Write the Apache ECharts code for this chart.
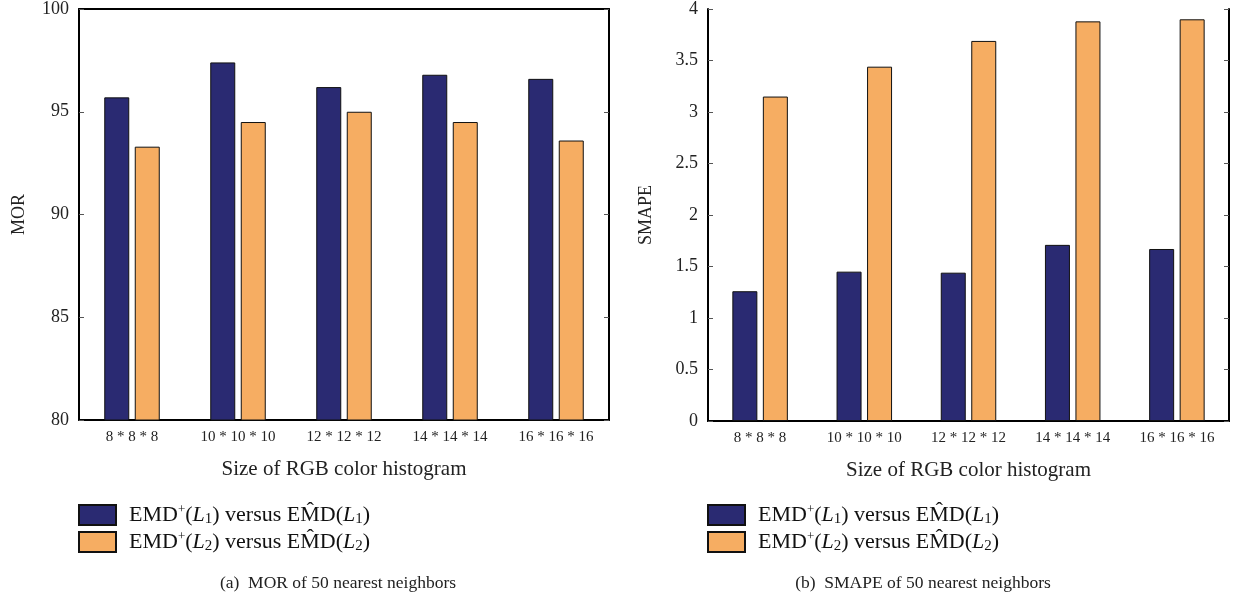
<!DOCTYPE html>
<html>
<head>
<meta charset="utf-8">
<script src="https://cdn.jsdelivr.net/npm/echarts@6/dist/echarts.min.js"></script>
<style>
  html, body { margin: 0; padding: 0; background: #fff; }
  #main { width: 1246px; height: 605px; }
</style>
</head>
<body>
<div id="main"></div>
<script>
  // categories and values
  var categories = ['8 * 8 * 8', '10 * 10 * 10', '12 * 12 * 12', '14 * 14 * 14', '16 * 16 * 16'];
  var morL1 = [95.7, 97.4, 96.2, 96.8, 96.6];
  var morL2 = [93.3, 94.5, 95.0, 94.5, 93.6];
  var smapeL1 = [1.26, 1.45, 1.44, 1.71, 1.67];
  var smapeL2 = [3.15, 3.44, 3.69, 3.88, 3.90];

  var FONT = 'Liberation Serif';
  var colors = ['#2a2a72', '#f6ad62'];

  var myChart = echarts.init(document.getElementById('main'));

  var legendRich = {
    t: { fontFamily: FONT, fontSize: 22, color: '#111', lineHeight: 24 },
    i: { fontFamily: FONT, fontSize: 22, fontStyle: 'italic', color: '#111', lineHeight: 24 },
    sup: { fontFamily: FONT, fontSize: 13, color: '#111', lineHeight: 12, verticalAlign: 'top' },
    sub: { fontFamily: FONT, fontSize: 15, color: '#111', lineHeight: 10, verticalAlign: 'bottom' }
  };
  function legendText(name) {
    var n = name === 'L1' ? '1' : '2';
    return '{t|EMD}{sup|+}{t|(}{i|L}{sub|' + n + '}{t|) versus EM\u0302D(}{i|L}{sub|' + n + '}{t|)}';
  }

  function xAxes(gi) {
    return [
      {
        type: 'category', gridIndex: gi, data: categories, position: 'bottom',
        axisLine: { lineStyle: { color: '#000', width: 2 } },
        axisTick: { inside: true, alignWithLabel: true, length: 4, lineStyle: { color: '#555' } },
        axisLabel: { fontFamily: FONT, fontSize: 15, color: '#222', margin: 10 },
        name: 'Size of RGB color histogram', nameLocation: 'middle', nameGap: 39,
        nameTextStyle: { fontFamily: FONT, fontSize: 21, color: '#222' }
      },
      {
        type: 'category', gridIndex: gi, data: categories, position: 'top',
        axisLine: { lineStyle: { color: '#000', width: 2 } },
        axisTick: { inside: true, alignWithLabel: true, length: 5, lineStyle: { color: '#555' } },
        axisLabel: { show: false }
      }
    ];
  }
  function yAxes(gi, min, max, interval, name, gap) {
    return [
      {
        type: 'value', gridIndex: gi, min: min, max: max, interval: interval, position: 'left',
        splitLine: { show: false },
        axisLine: { show: true, lineStyle: { color: '#000', width: 2 } },
        axisTick: { show: true, inside: true, length: 5, lineStyle: { color: '#555' } },
        axisLabel: { fontFamily: FONT, fontSize: 18, color: '#222', margin: 10 },
        name: name, nameLocation: 'middle', nameGap: gap, nameRotate: 90,
        nameTextStyle: { fontFamily: FONT, fontSize: 18, color: '#222' }
      },
      {
        type: 'value', gridIndex: gi, min: min, max: max, interval: interval, position: 'right',
        splitLine: { show: false },
        axisLine: { show: true, lineStyle: { color: '#000', width: 2 } },
        axisTick: { show: true, inside: true, length: 5, lineStyle: { color: '#555' } },
        axisLabel: { show: false }
      }
    ];
  }
  function bar(name, gi, data, color) {
    return {
      name: name, type: 'bar', xAxisIndex: gi * 2, yAxisIndex: gi * 2,
      barWidth: 25, barGap: '22%', data: data,
      itemStyle: { color: color, borderColor: '#111', borderWidth: 1 }
    };
  }
  function legendAt(x) {
    return {
      orient: 'vertical', left: x, top: 503, padding: 0,
      itemWidth: 37, itemHeight: 20, itemGap: 3, icon: 'rect',
      data: ['L1', 'L2'], formatter: legendText,
      textStyle: { rich: legendRich, padding: [0, 0, 0, 8] }
    };
  }

  var option = {
    backgroundColor: '#fff',
    animation: false,
    color: colors,
    title: [
      { text: '(a)  MOR of 50 nearest neighbors', left: 333, top: 569, textAlign: 'center',
        textStyle: { fontFamily: FONT, fontSize: 17.5, fontWeight: 'normal', color: '#222' } },
      { text: '(b)  SMAPE of 50 nearest neighbors', left: 918, top: 569, textAlign: 'center',
        textStyle: { fontFamily: FONT, fontSize: 17.5, fontWeight: 'normal', color: '#222' } }
    ],
    legend: [legendAt(78), legendAt(707)],
    grid: [
      { left: 79, right: 637, top: 8, bottom: 185 },
      { left: 708, right: 17, top: 8, bottom: 184 }
    ],
    xAxis: xAxes(0).concat(xAxes(1)),
    yAxis: yAxes(0, 80, 100, 5, 'MOR', 51).concat(yAxes(1, 0, 4, 0.5, 'SMAPE', 53)),
    series: [
      bar('L1', 0, morL1, colors[0]),
      bar('L2', 0, morL2, colors[1]),
      bar('L1', 1, smapeL1, colors[0]),
      bar('L2', 1, smapeL2, colors[1])
    ]
  };
  myChart.setOption(option);
</script>
</body>
</html>
